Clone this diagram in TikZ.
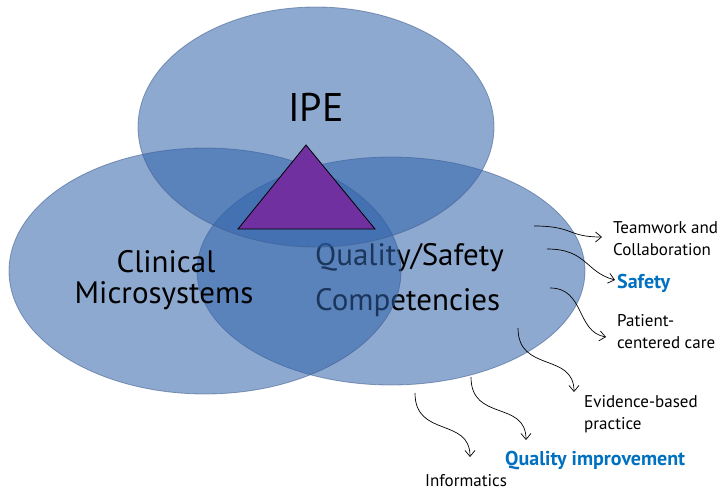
\documentclass[tikz,border=0pt]{standalone}
\usepackage{fontspec}
\setmainfont{PT Sans}
\usetikzlibrary{arrows.meta}
\definecolor{ellfill}{RGB}{49,99,170}
\definecolor{elledge}{RGB}{60,90,140}
\definecolor{trifill}{RGB}{112,48,160}
\definecolor{qblue}{RGB}{0,112,192}
\begin{document}
\begin{tikzpicture}[x=1pt,y=-1pt,
  ell/.style={fill=ellfill,fill opacity=0.55,draw=elledge,draw opacity=0.55,line width=0.8pt},
  big/.style={inner sep=0pt,font=\fontsize{31}{31}\selectfont,text=black},
  lbl/.style={anchor=base west,inner sep=0pt,font=\fontsize{17}{22}\selectfont,align=left},
  hl/.style={lbl,font=\fontsize{20}{22}\selectfont\bfseries,text=qblue},
  arr/.style={-{Straight Barb[length=6pt,width=10pt]},line width=0.7pt,black}
]
\useasboundingbox (0,0) rectangle (726,490);

% right ellipse and its text
\fill[ell] (391,271) ellipse [x radius=194, y radius=114];
\node[big,anchor=base west] (qs1) at (315,265) {Quality/Safety};
\node[big,anchor=base west] (qs2) at (315,310) {Competencies};
% left ellipse and its text
\fill[ell] (205,271) ellipse [x radius=196, y radius=123];
\node[big,anchor=base] (cm1) at (166,272) {Clinical};
\node[big,anchor=base] (cm2) at (164,303) {Microsystems};
% top ellipse
\fill[ell] (316,127) ellipse [x radius=178, y radius=120];
\node[inner sep=0pt,font=\fontsize{40}{40}\selectfont,anchor=base] (ipe) at (316,121) {IPE};
% triangle
\draw[fill=trifill,line width=0.8pt,line join=miter] (306,145) -- (238,229) -- (375,229) -- cycle;

% labels (anchor = baseline of the last line)
\node[lbl] (tw) at (613,255) {Teamwork and\\Collaboration};
\node[hl] (sf) at (617,288) {Safety};
\node[lbl] (pc) at (617,348) {Patient-\\centered care};
\node[lbl] (eb) at (584,429) {Evidence-based\\practice};
\node[hl] (qi) at (505,465) {Quality improvement};
\node[lbl] (inf) at (425,486) {Informatics};

% arrow ends
\coordinate (s1) at (534,226); \coordinate (e1) at (602,237);
\coordinate (s2) at (547,249); \coordinate (e2) at (615,280);
\coordinate (s3) at (550,288); \coordinate (e3) at (606,337);
\coordinate (s4) at (518,328); \coordinate (e4) at (574,392);
\coordinate (s5) at (471,377); \coordinate (e5) at (526,440);
\coordinate (s6) at (415,393); \coordinate (e6) at (470,457);

\draw[arr] (s1) .. controls +(40,0) and +(-35,0) .. (e1);
\draw[arr] (s2) .. controls +(40,0) and +(-30,-8) .. (e2);
\draw[arr] (s3) .. controls +(35,0) and +(-30,-5) .. (e3);
\draw[arr] (s4) .. controls +(0,45) and +(0,-40) .. (e4);
\draw[arr] (s5) .. controls +(0,45) and +(0,-40) .. (e5);
\draw[arr] (s6) .. controls +(0,45) and +(0,-40) .. (e6);
\end{tikzpicture}
\end{document}
